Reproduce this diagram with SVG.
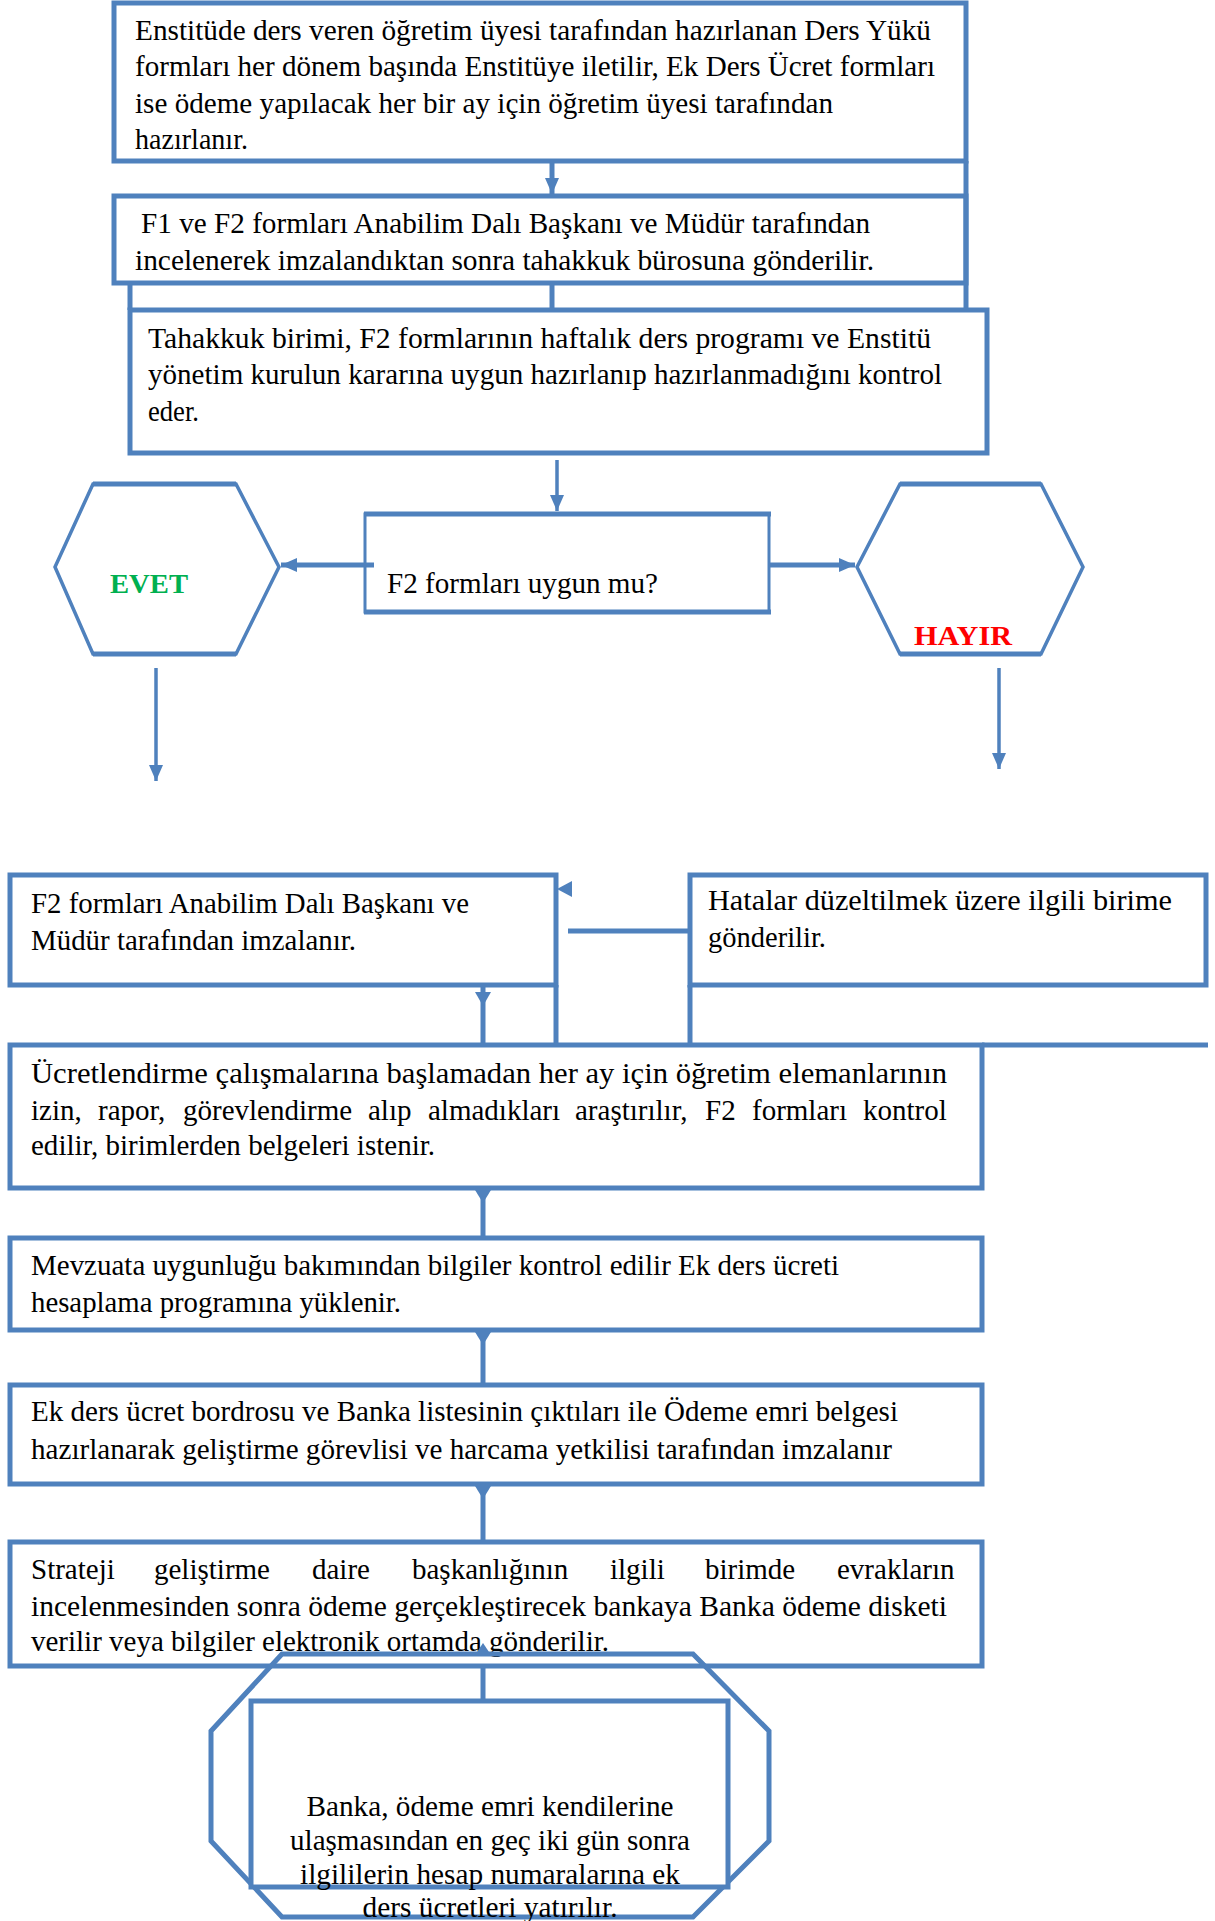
<svg xmlns="http://www.w3.org/2000/svg" width="1215" height="1921" viewBox="0 0 1215 1921">
  <defs>
    <style>
      .box { fill: #ffffff; stroke: #4F81BD; stroke-width: 5; }
      .edge { fill: none; stroke: #4F81BD; stroke-width: 5; }
      .thin { fill: none; stroke: #4F81BD; stroke-width: 3.5; }
      .head { fill: #4F81BD; stroke: none; }
      .t { font-family: "Liberation Serif", "Times New Roman", serif; font-size: 29px; fill: #000000; }
      .c { text-anchor: middle; }
      .yes { font-family: "Liberation Serif", "Times New Roman", serif; font-size: 28px; font-weight: bold; fill: #00B050; }
      .no { font-family: "Liberation Serif", "Times New Roman", serif; font-size: 28px; font-weight: bold; fill: #FF0000; }
    </style>
    <marker id="arrow" viewBox="0 0 16 14" refX="16" refY="7" markerWidth="16" markerHeight="14" orient="auto" markerUnits="userSpaceOnUse">
      <path d="M0,0 L16,7 L0,14 z" fill="#4F81BD"/>
    </marker>
  </defs>

  <!-- step 1 -->
  <g id="node-forms">
    <rect class="box" x="114" y="3" width="852" height="158"/>
    <text class="t" x="135" y="40" textLength="796" lengthAdjust="spacingAndGlyphs">Enstitüde ders veren öğretim üyesi tarafından hazırlanan Ders Yükü</text>
    <text class="t" x="135" y="76" textLength="800" lengthAdjust="spacingAndGlyphs">formları her dönem başında Enstitüye iletilir, Ek Ders Ücret formları</text>
    <text class="t" x="135" y="113" textLength="698" lengthAdjust="spacingAndGlyphs">ise ödeme yapılacak her bir ay için öğretim üyesi tarafından</text>
    <text class="t" x="135" y="149" textLength="113" lengthAdjust="spacingAndGlyphs">hazırlanır.</text>
  </g>

  <!-- step 2 -->
  <g id="node-sign">
    <rect class="box" x="114" y="196" width="852" height="87"/>
    <text class="t" x="141" y="233" textLength="729" lengthAdjust="spacingAndGlyphs">F1 ve F2 formları Anabilim Dalı Başkanı ve Müdür tarafından</text>
    <text class="t" x="135" y="270" textLength="739" lengthAdjust="spacingAndGlyphs">incelenerek imzalandıktan sonra tahakkuk bürosuna gönderilir.</text>
  </g>

  <!-- step 3 -->
  <g id="node-check">
    <rect class="box" x="130" y="310" width="857" height="143"/>
    <text class="t" x="148" y="348" textLength="783" lengthAdjust="spacingAndGlyphs">Tahakkuk birimi, F2 formlarının haftalık ders programı ve Enstitü</text>
    <text class="t" x="148" y="384" textLength="794" lengthAdjust="spacingAndGlyphs">yönetim kurulun kararına uygun hazırlanıp hazırlanmadığını kontrol</text>
    <text class="t" x="148" y="421" textLength="51" lengthAdjust="spacingAndGlyphs">eder.</text>
  </g>

  <!-- decision -->
  <g id="node-decision">
    <rect x="365" y="514" width="404" height="98" fill="#ffffff" stroke="#4F81BD" stroke-width="3"/>
    <line class="edge" x1="364" y1="514" x2="771" y2="514"/>
    <line class="edge" x1="364" y1="612" x2="771" y2="612"/>
    <text class="t" x="387" y="593" textLength="271" lengthAdjust="spacingAndGlyphs">F2 formları uygun mu?</text>
  </g>

  <!-- yes branch -->
  <g id="node-yes">
    <polygon class="thin" points="93,484 236,484 279,567 236,654 93,654 55,567" fill="#ffffff"/>
    <line class="edge" x1="93" y1="484" x2="236" y2="484"/>
    <line class="edge" x1="93" y1="654" x2="236" y2="654"/>
    <text class="yes" x="110" y="593" textLength="78" lengthAdjust="spacingAndGlyphs">EVET</text>
  </g>

  <!-- no branch -->
  <g id="node-no">
    <polygon class="thin" points="900,484 1041,484 1083,567 1041,654 900,654 857,567" fill="#ffffff"/>
    <line class="edge" x1="900" y1="484" x2="1041" y2="484"/>
    <line class="edge" x1="900" y1="654" x2="1041" y2="654"/>
    <text class="no" x="914" y="645" textLength="98" lengthAdjust="spacingAndGlyphs">HAYIR</text>
  </g>

  <!-- approved forms -->
  <g id="node-approved">
    <rect class="box" x="10" y="875" width="546" height="110"/>
    <text class="t" x="31" y="913" textLength="438" lengthAdjust="spacingAndGlyphs">F2 formları Anabilim Dalı Başkanı ve</text>
    <text class="t" x="31" y="950" textLength="325" lengthAdjust="spacingAndGlyphs">Müdür tarafından imzalanır.</text>
  </g>

  <!-- errors returned -->
  <g id="node-errors">
    <rect class="box" x="690" y="875" width="516" height="110"/>
    <text class="t" x="708" y="910" textLength="464" lengthAdjust="spacingAndGlyphs">Hatalar düzeltilmek üzere ilgili birime</text>
    <text class="t" x="708" y="947" textLength="118" lengthAdjust="spacingAndGlyphs">gönderilir.</text>
  </g>

  <!-- monthly review -->
  <g id="node-review">
    <rect class="box" x="10" y="1045" width="972" height="143"/>
    <text class="t" x="31" y="1083" textLength="916" lengthAdjust="spacingAndGlyphs">Ücretlendirme çalışmalarına başlamadan her ay için öğretim elemanlarının</text>
    <text class="t" y="1120"><tspan x="31">izin,</tspan><tspan x="98">rapor,</tspan><tspan x="183">görevlendirme</tspan><tspan x="368">alıp</tspan><tspan x="428">almadıkları</tspan><tspan x="575">araştırılır,</tspan><tspan x="705">F2</tspan><tspan x="752">formları</tspan><tspan x="863">kontrol</tspan></text>
    <text class="t" x="31" y="1155" textLength="404" lengthAdjust="spacingAndGlyphs">edilir, birimlerden belgeleri istenir.</text>
  </g>

  <!-- legislation check -->
  <g id="node-legislation">
    <rect class="box" x="10" y="1238" width="972" height="92"/>
    <text class="t" x="31" y="1275" textLength="808" lengthAdjust="spacingAndGlyphs">Mevzuata uygunluğu bakımından bilgiler kontrol edilir Ek ders ücreti</text>
    <text class="t" x="31" y="1312" textLength="370" lengthAdjust="spacingAndGlyphs">hesaplama programına yüklenir.</text>
  </g>

  <!-- payroll -->
  <g id="node-payroll">
    <rect class="box" x="10" y="1385" width="972" height="99"/>
    <text class="t" x="31" y="1421" textLength="867" lengthAdjust="spacingAndGlyphs">Ek ders ücret bordrosu ve Banka listesinin çıktıları ile Ödeme emri belgesi</text>
    <text class="t" x="31" y="1459" textLength="861" lengthAdjust="spacingAndGlyphs">hazırlanarak geliştirme görevlisi ve harcama yetkilisi tarafından imzalanır</text>
  </g>

  <!-- strategy department -->
  <g id="node-strategy">
    <rect class="box" x="10" y="1542" width="972" height="124"/>
    <text class="t" y="1579"><tspan x="31">Strateji</tspan><tspan x="154">geliştirme</tspan><tspan x="312">daire</tspan><tspan x="412">başkanlığının</tspan><tspan x="610">ilgili</tspan><tspan x="705">birimde</tspan><tspan x="837">evrakların</tspan></text>
    <text class="t" x="31" y="1616" textLength="916" lengthAdjust="spacingAndGlyphs">incelenmesinden sonra ödeme gerçekleştirecek bankaya Banka ödeme disketi</text>
    <text class="t" x="31" y="1651" textLength="578" lengthAdjust="spacingAndGlyphs">verilir veya bilgiler elektronik ortamda gönderilir.</text>
  </g>

  <!-- bank payment -->
  <g id="node-bank">
    <polygon class="edge" points="282,1654 693,1654 769,1731 769,1841 693,1917 282,1917 211,1841 211,1731"/>
    <rect class="box" x="251" y="1701" width="477" height="186"/>
    <text class="t c" x="490" y="1816" textLength="367" lengthAdjust="spacingAndGlyphs">Banka, ödeme emri kendilerine</text>
    <text class="t c" x="490" y="1850" textLength="400" lengthAdjust="spacingAndGlyphs">ulaşmasından en geç iki gün sonra</text>
    <text class="t c" x="490" y="1884" textLength="380" lengthAdjust="spacingAndGlyphs">ilgililerin hesap numaralarına ek</text>
    <text class="t c" x="490" y="1917" textLength="255" lengthAdjust="spacingAndGlyphs">ders ücretleri yatırılır.</text>
  </g>

  <!-- connectors -->
  <g id="connectors">
    <line class="edge" x1="552" y1="163" x2="552" y2="194" marker-end="url(#arrow)"/>
    <line class="edge" x1="966" y1="161" x2="966" y2="310"/>
    <line class="edge" x1="552" y1="283" x2="552" y2="310"/>
    <line class="edge" x1="130" y1="283" x2="130" y2="310"/>
    <line class="thin" x1="557" y1="460" x2="557" y2="511" marker-end="url(#arrow)"/>
    <line class="edge" x1="374" y1="565" x2="281" y2="565" marker-end="url(#arrow)"/>
    <line class="edge" x1="769" y1="565" x2="855" y2="565" marker-end="url(#arrow)"/>
    <line class="thin" x1="156" y1="668" x2="156" y2="781" marker-end="url(#arrow)"/>
    <line class="thin" x1="999" y1="668" x2="999" y2="769" marker-end="url(#arrow)"/>
    <line class="edge" x1="688" y1="931" x2="568" y2="931"/>
    <polygon class="head" points="557,889 572,881 572,897"/>
    <line class="edge" x1="483" y1="985" x2="483" y2="1045"/>
    <polygon class="head" points="475,992 491,992 483,1006"/>
    <line class="edge" x1="556" y1="985" x2="556" y2="1045"/>
    <line class="edge" x1="690" y1="985" x2="690" y2="1045"/>
    <line class="edge" x1="982" y1="1045" x2="1208" y2="1045"/>
    <line class="edge" x1="483" y1="1188" x2="483" y2="1238"/>
    <polygon class="head" points="475,1190 491,1190 483,1203"/>
    <line class="edge" x1="483" y1="1330" x2="483" y2="1385"/>
    <polygon class="head" points="475,1332 491,1332 483,1345"/>
    <line class="edge" x1="483" y1="1484" x2="483" y2="1542"/>
    <polygon class="head" points="475,1486 491,1486 483,1499"/>
    <line class="edge" x1="483" y1="1666" x2="483" y2="1701"/>
    <polygon class="head" points="483,1643 491,1655 475,1655"/>
  </g>
</svg>
